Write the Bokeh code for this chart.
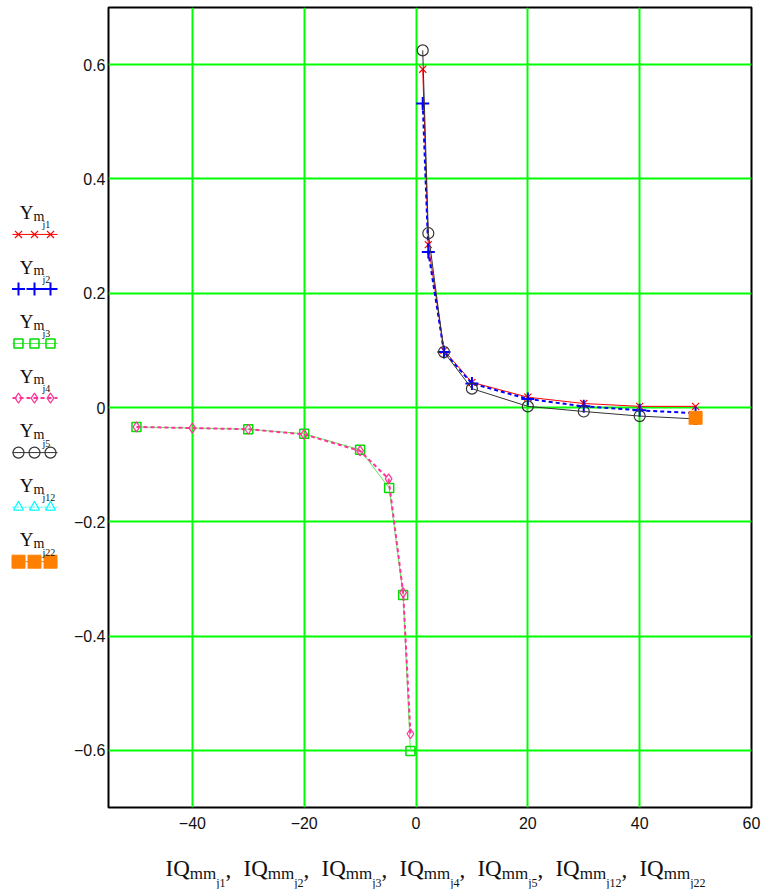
from bokeh.plotting import figure
from bokeh.layouts import row, column
from bokeh.models import Range1d, FixedTicker
from bokeh.core.properties import value
from bokeh.embed import file_html
from bokeh.resources import INLINE

# ---------------- data ----------------
x_pos = [1.2, 2.2, 5, 10, 20, 30, 40, 50]
y_j1 = [0.592, 0.285, 0.100, 0.044, 0.018, 0.007, 0.002, 0.002]
y_j2 = [0.532, 0.272, 0.097, 0.042, 0.015, 0.002, -0.005, -0.010]
y_j5 = [0.625, 0.305, 0.097, 0.033, 0.002, -0.007, -0.015, -0.020]
x_j3 = [-50, -30, -20, -10, -4.8, -2.3, -1.0]
y_j3 = [-0.034, -0.038, -0.046, -0.074, -0.141, -0.328, -0.601]
x_j4 = [-50, -40, -30, -20, -10, -4.9, -2.3, -1.0]
y_j4 = [-0.034, -0.036, -0.038, -0.047, -0.076, -0.125, -0.324, -0.571]
x_j12 = []
y_j12 = []
x_j22 = [50]
y_j22 = [-0.018]

x_ticks = [-40, -20, 0, 20, 40, 60]
x_tick_labels = ["\u221240", "\u221220", "0", "20", "40", "60"]
y_ticks = [-0.6, -0.4, -0.2, 0, 0.2, 0.4, 0.6]
y_tick_labels = ["\u22120.6", "\u22120.4", "\u22120.2", "0", "0.2", "0.4", "0.6"]
series_subs = ["j1", "j2", "j3", "j4", "j5", "j12", "j22"]

# ---------------- styles ----------------
SERIF = value("Liberation Serif")
SANS = "Liberation Sans"
styles = {
    "j1": dict(color="#ff0000", dash="solid", lw=1, marker="x", size=10, fill=None, mlw=1.2),
    "j2": dict(color="#0000ff", dash="4 3", lw=2, marker="cross", size=13, fill=None, mlw=2),
    "j3": dict(color="#55ee55", dash="solid", lw=1, marker="square", size=9, fill=None, mlw=1.5, mcolor="#00dd00"),
    "j4": dict(color="#ff3399", dash="4 3", lw=2, marker="diamond", size=10, fill=None, mlw=1.2),
    "j5": dict(color="#333333", dash="solid", lw=1, marker="circle", size=11, fill=None, mlw=1.2),
    "j12": dict(color="#00ffff", dash="2 2", lw=1, marker="triangle", size=10, fill=None, mlw=1.2),
    "j22": dict(color="#ff8000", dash="solid", lw=1, marker="square", size=13, fill="#ff8000", mlw=1),
}
series = {
    "j1": (x_pos, y_j1), "j2": (x_pos, y_j2), "j3": (x_j3, y_j3), "j4": (x_j4, y_j4),
    "j5": (x_pos, y_j5), "j12": (x_j12, y_j12), "j22": (x_j22, y_j22),
}

# ---------------- layout constants (page pixels, origin at top-left) ----------------
MAIN_H = 839
LEG_W = 64
MAIN_W = 707
TITLE_H = 50

# ---------------- main plot ----------------
p = figure(width=MAIN_W, height=MAIN_H, output_backend="svg", toolbar_location=None,
           x_range=Range1d(-55, 60), y_range=Range1d(-0.7, 0.7),
           min_border_left=44, min_border_right=20, min_border_top=7, min_border_bottom=32)
p.background_fill_color = "white"
p.border_fill_color = "white"
p.outline_line_color = "black"
p.outline_line_width = 2

p.xaxis.ticker = FixedTicker(ticks=x_ticks)
p.yaxis.ticker = FixedTicker(ticks=y_ticks)
p.xaxis.major_label_overrides = dict(zip(x_ticks, x_tick_labels))
p.yaxis.major_label_overrides = dict(zip(y_ticks, y_tick_labels))
for ax in (p.xaxis[0], p.yaxis[0]):
    ax.axis_line_color = None
    ax.major_tick_line_color = None
    ax.minor_tick_line_color = None
    ax.major_tick_in = 0
    ax.major_tick_out = 0
    ax.major_label_text_font = SANS
    ax.major_label_text_font_size = "16px"
    ax.major_label_text_color = "#111111"
p.xaxis.major_label_standoff = 9
p.yaxis.major_label_standoff = 3

for g in (p.xgrid[0], p.ygrid[0]):
    g.grid_line_color = "#00ff00"
    g.grid_line_width = 2
    g.grid_line_alpha = 1.0

for key in series_subs:
    xs, ys = series[key]
    st = styles[key]
    if len(xs) > 1:
        p.line(xs, ys, line_color=st["color"], line_width=st["lw"], line_dash=st["dash"])
    if len(xs) > 0:
        p.scatter(xs, ys, marker=st["marker"], size=st["size"],
                  line_color=st.get("mcolor", st["color"]), line_width=st["mlw"],
                  fill_color=st["fill"], fill_alpha=1.0 if st["fill"] else 0)

# ---------------- legend figure (page coordinates) ----------------
leg = figure(width=LEG_W, height=MAIN_H, output_backend="svg", toolbar_location=None,
             x_range=Range1d(0, LEG_W), y_range=Range1d(MAIN_H, 0),
             min_border=0, outline_line_color=None)
leg.axis.visible = False
leg.grid.visible = False
leg_y0, leg_dy = 238, 57.2
mk_x = [18, 34, 50]
for i, key in enumerate(series_subs):
    st = styles[key]
    yl = leg_y0 + i * leg_dy
    leg.line([12, 57], [yl, yl], line_color=st["color"], line_width=max(1, st["lw"]), line_dash=st["dash"])
    leg.scatter(mk_x, [yl] * 3, marker=st["marker"], size=st["size"],
                line_color=st.get("mcolor", st["color"]), line_width=st["mlw"],
                fill_color=st["fill"], fill_alpha=1.0 if st["fill"] else 0)
    leg.text([26], [yl - 23], text=["Y"], text_font=SERIF, text_font_size=value("19px"),
             text_align="center", text_baseline="alphabetic", text_color="#111111")
    leg.text([33], [yl - 19], text=["m"], text_font=SERIF, text_font_size=value("14px"),
             text_align="left", text_baseline="alphabetic", text_color="#111111")
    leg.text([42], [yl - 10], text=[key], text_font=SERIF, text_font_size=value("10px"),
             text_align="left", text_baseline="alphabetic", text_color="#111111")

# ---------------- axis title figure (page coordinates) ----------------
t_top = MAIN_H
tf = figure(width=LEG_W + MAIN_W, height=TITLE_H, output_backend="svg", toolbar_location=None,
            x_range=Range1d(0, LEG_W + MAIN_W), y_range=Range1d(t_top + TITLE_H, t_top),
            min_border=0, outline_line_color=None)
tf.axis.visible = False
tf.grid.visible = False

W = {"I": 0.333, "Q": 0.722, "m": 0.778, "j": 0.278, ",": 0.25}
def tw(s, fs):
    return sum(W.get(c, 0.5) for c in s) * fs

fs1, fs2, fs3 = 23, 17, 12
x_start, x_end = 165, 705
nat = []
for k, sub in enumerate(series_subs):
    w = tw("IQ", fs1) + tw("mm", fs2) + tw(sub, fs3) + (tw(",", fs1) if k < len(series_subs) - 1 else 0)
    nat.append(w)
gap = (x_end - x_start - sum(nat)) / (len(series_subs) - 1)
xc = x_start
for k, sub in enumerate(series_subs):
    tf.text([xc], [t_top + 29], text=["IQ"], text_font=SERIF, text_font_size=value(f"{fs1}px"),
            text_baseline="alphabetic", text_color="#111111")
    x2 = xc + tw("IQ", fs1)
    tf.text([x2], [t_top + 34], text=["mm"], text_font=SERIF, text_font_size=value(f"{fs2}px"),
            text_baseline="alphabetic", text_color="#111111")
    x3 = x2 + tw("mm", fs2)
    tf.text([x3], [t_top + 43], text=[sub], text_font=SERIF, text_font_size=value(f"{fs3}px"),
            text_baseline="alphabetic", text_color="#111111")
    x4 = x3 + tw(sub, fs3)
    if k < len(series_subs) - 1:
        tf.text([x4], [t_top + 30], text=[","], text_font=SERIF, text_font_size=value(f"{fs1}px"),
                text_baseline="alphabetic", text_color="#111111")
    xc += nat[k] + gap

layout = column(row(leg, p), tf)
open("out.html", "w").write(file_html(layout, INLINE))
